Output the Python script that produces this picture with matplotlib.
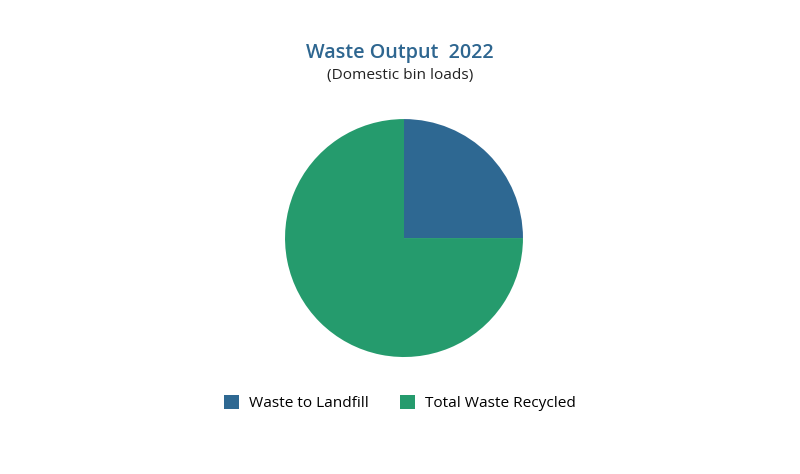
import matplotlib.pyplot as plt
from matplotlib.patches import Patch

plt.rcParams['font.family'] = ['Open Sans', 'DejaVu Sans']

# data
labels = ['Waste to Landfill', 'Total Waste Recycled']
values = [25, 75]
colors = ['#2e6892', '#259b6d']

fig = plt.figure(figsize=(8, 4.74), dpi=100)
ax = fig.add_axes([0.35625, 0.2468, 0.2975, 0.502])
ax.pie(values, colors=colors, startangle=90, counterclock=False,
       radius=1, wedgeprops={'linewidth': 0})
ax.set_xlim(-1, 1)
ax.set_ylim(-1, 1)
ax.set_aspect('equal')
ax.axis('off')

fig.text(0.5, 1 - 53 / 474, 'Waste Output  2022', ha='center', va='center',
         fontsize=14.2, fontweight='semibold', color='#2e6690')
fig.text(0.5, 1 - 76 / 474, '(Domestic bin loads)', ha='center', va='center',
         fontsize=11.1, color='#222222')

handles = [Patch(facecolor=c, edgecolor='none') for c in colors]
fig.legend(handles, labels, loc='center', bbox_to_anchor=(0.5, 1 - 403 / 474),
           ncol=2, frameon=False, fontsize=11.1, handlelength=1.0,
           handleheight=1.0, handletextpad=0.65, columnspacing=2.0)

fig.savefig('out.png', dpi=100)
